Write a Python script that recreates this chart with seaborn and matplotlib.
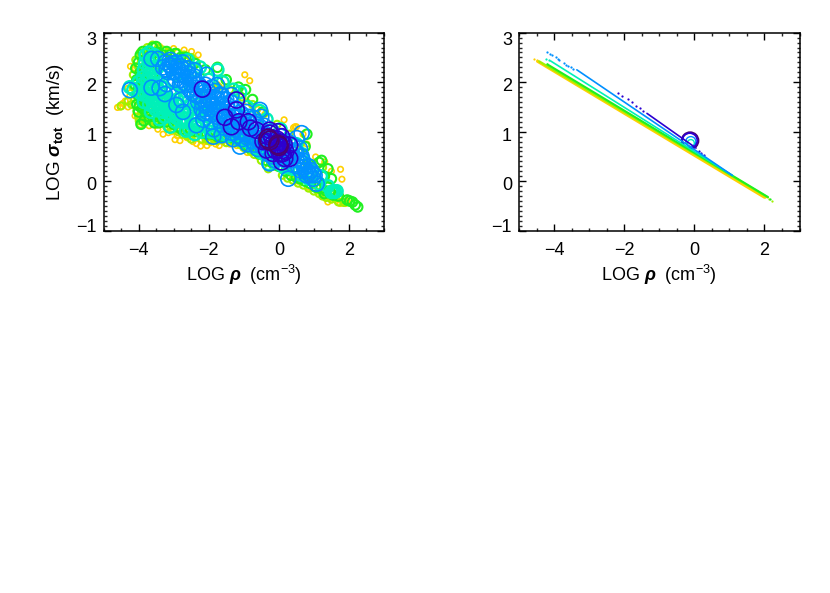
import numpy as np
import pandas as pd
import matplotlib
matplotlib.use("Agg")
import matplotlib.pyplot as plt
import seaborn as sns
from matplotlib.ticker import MultipleLocator
from matplotlib.transforms import ScaledTranslation

sns.set_theme(style="white")
plt.rcParams.update({
    "font.family": ["Liberation Sans", "DejaVu Sans"],
    "mathtext.fontset": "custom",
    "mathtext.rm": "Liberation Sans",
    "mathtext.it": "Liberation Sans:italic",
    "mathtext.bf": "Liberation Sans:bold",
    "mathtext.bfit": "Liberation Sans:italic:bold",
    "mathtext.default": "regular",
    "axes.unicode_minus": True,
})

gold_pts = [(-4.6,1.49),(-4.52,1.5),(-4.45,1.57),(-4.38,1.62),(-4.3,1.5),(-4.23,2.32),(-4.1,2.28),(-4.25,1.72),
 (-4.3,1.88),(-4.1,1.32),(-3.9,1.25),(-3.6,1.2),(-3.18,1.07),(-3.3,0.95),(-3.05,1.0),(-2.96,0.84),(-2.82,0.82),(-2.7,0.98),
 (-2.55,0.9),(-2.35,0.76),(-2.23,0.71),(-2.1,0.8),(-1.95,0.78),(-1.8,0.75),(-1.6,0.8),(-1.4,0.75),(-1.2,0.72),
 (-0.97,2.15),(-0.83,2.03),(-1.7,1.91),(-1.75,1.95),(-1.5,1.9),(-1.1,1.75),(-0.9,1.6),(-0.6,1.45),(-0.4,1.35),
 (0.15,1.24),(0.46,1.1),(0.5,1.1),(0.42,1.08),(0.69,0.95),(0.8,0.75),(1.05,0.49),(1.31,0.39),(1.5,0.2),(1.76,0.24),(1.8,0.04),
 (1.64,-0.39),(1.4,-0.42),(1.5,-0.38),(1.1,-0.2),(0.85,-0.12),(0.55,0.0),(0.2,0.2),(-0.2,0.35),(-0.6,0.5),(-0.9,0.58),
 (-2.49,2.62),(-2.3,2.55),(-2.7,2.65),(-3.0,2.68),(-3.4,2.72),(1.9,-0.45),(1.75,-0.45),(1.25,-0.3),(1.95,-0.4),
 (-2.62,0.88),(-2.45,0.8),(-2.05,0.72),(-1.7,0.72),(-1.5,0.76),(-3.45,1.05),(-3.7,1.12),(-2.9,0.92),(-3.15,0.98)]

lime_pts = [(-4.5,1.52),(-4.3,1.62),(-4.2,1.55),(-4.05,1.42),(-4.0,1.3),(-3.95,1.15),(-3.85,1.35),(-3.7,1.22),(-3.5,1.15),(-3.2,1.1),
 (-3.0,1.05),(-2.75,0.95),(-2.5,0.85),(-2.2,0.85),(-2.0,0.82),(-1.75,0.82),(-1.5,0.78),(-1.2,0.78),(-1.0,0.68),(-0.8,0.6),
 (-4.15,2.15),(-4.05,2.0),(-4.15,1.9),(-4.1,1.75),(-4.0,2.3),(-3.85,2.55),(-3.95,2.6),(-3.75,2.7),(-3.6,2.75),(-3.55,2.72),(-3.3,2.65),
 (-2.9,2.6),(-2.5,2.5),(-2.35,2.4),(-1.75,1.9),(-1.4,1.85),(-1.05,1.7),(-0.75,1.55),(-0.5,1.4),(-0.3,0.25),(0.1,0.12),(0.4,0.02),(0.7,-0.08),
 (1.0,-0.2),(1.15,-0.25),(1.35,-0.33),(1.5,-0.36),(1.7,-0.42),(1.85,-0.43),(1.55,-0.25),(1.35,-0.18),(1.7,-0.32),(0.95,0.35),(1.25,0.28),
 (-3.9,1.9),(-3.75,1.6),(-3.8,2.1),(-3.65,1.45),(-3.45,1.4),(-3.2,1.25),(-0.05,1.15),(0.3,0.95),(0.6,0.75),
 (-4.02,1.62),(-3.98,1.85),(-4.08,2.45),(-3.92,2.42),(-3.88,2.2),(-3.82,1.48),(-3.92,1.42),(-3.98,1.22),(-3.78,1.28),(-3.6,1.32),(-3.35,1.18),
 (-3.1,1.12),(-2.88,1.0),(-2.62,0.92),(-2.35,0.9),(-2.08,0.86),(-1.85,0.85),(-1.62,0.84),(-1.35,0.82),(-1.1,0.74),(-0.9,0.66),(-0.7,0.54),
 (-0.5,0.42),(-0.15,0.3),(0.25,0.06),(0.55,-0.04),(0.85,-0.14),(1.25,-0.3),(1.45,-0.3),(1.6,-0.34),(-3.45,2.68),(-3.15,2.6),(-2.7,2.55)]

green_pts = [(-4.05,1.55),(-4.0,1.4),(-3.93,1.15),(-3.9,1.48),(-3.8,1.8),(-3.95,1.7),(-4.05,2.05),(-3.95,2.2),(-4.0,2.4),(-3.95,2.55),
 (-3.85,2.4),(-3.75,2.62),(-3.6,2.7),(-3.45,2.6),(-3.7,1.3),(-3.55,1.18),(-3.42,1.18),(-3.3,1.25),(-3.1,1.3),(-2.9,1.1),
 (-2.65,1.0),(-2.35,1.0),(-2.05,0.95),(-1.75,0.9),(-1.5,1.0),(-1.2,0.9),(-0.95,0.72),(-0.65,0.62),(-0.35,0.42),(0.0,0.3),(0.35,0.12),
 (-3.1,2.55),(-2.8,2.5),(-2.4,2.38),(-2.1,2.25),(-1.75,2.3),(-1.5,2.05),(-1.15,1.9),(-0.95,1.85),(-0.75,1.65),(-0.45,1.4),(0.75,0.7),(0.8,0.95),
 (0.6,0.05),(0.9,-0.05),(1.2,-0.15),(0.85,0.35),(1.15,0.38),(1.22,0.42),(1.5,0.05),(1.42,-0.12),(1.6,-0.22),(1.45,-0.2),(1.3,-0.25),
 (1.95,-0.38),(2.1,-0.42),(2.18,-0.48),(2.25,-0.52),(2.02,-0.4),(1.4,0.25),(1.3,0.1),(-3.7,1.95),(-3.55,2.2),(-3.6,1.6),(-3.4,1.75),
 (-4.0,1.9),(-3.9,2.05),(-4.02,1.75),(-3.9,1.62),(-3.8,1.4),(-3.65,2.45),(-3.5,2.72),(-3.3,2.55),(-3.2,2.62),(-2.95,2.58),(-2.65,2.5),(-3.2,1.2),
 (-3.0,1.15),(-2.78,1.05),(-2.5,1.02),(-2.2,0.98),(-1.9,0.95),(-1.62,0.9),(-1.35,0.88),(-1.05,0.8),(-0.85,0.68),(-0.55,0.55),(-0.2,0.38),(0.2,0.2),
 (0.5,0.08),(0.75,0.0),(1.05,-0.12),(1.35,-0.2),(1.55,-0.28),(1.7,-0.3),
 (-4.08,2.28),(-4.1,1.95),(-3.98,1.52),(-3.85,1.22),(-3.72,1.42),(-3.95,2.1),(-3.88,2.62),(-3.52,1.3),(-3.35,1.35)]

teal_pts = [(-4.25,1.9),(-4.15,1.85),(-4.0,2.0),(-3.95,1.78),(-3.85,1.6),(-3.7,1.55),(-3.75,2.05),(-3.85,2.25),(-3.8,2.55),(-3.7,2.6),
 (-3.55,2.55),(-3.6,2.3),(-3.5,2.05),(-3.55,1.8),(-3.45,1.55),(-3.3,1.4),(-3.4,1.25),(-3.3,1.7),(-3.35,2.0),(-3.15,1.55),(-3.05,1.35),
 (-2.95,1.2),(-3.1,1.8),(-2.9,1.65),(-2.75,1.4),(-2.7,1.2),(-2.65,1.02),(-2.5,1.15),(-2.6,1.6),(-2.45,1.35),(-2.3,1.15),(-2.2,1.0),
 (-2.1,1.25),(-1.95,1.0),(-1.85,1.15),(-1.7,1.05),(-1.55,0.95),(-1.35,1.0),(-1.15,0.85),(-0.95,0.82),(-0.75,0.7),(-0.5,0.58),(-0.3,0.52),
 (-0.3,0.35),(-0.05,0.42),(0.15,0.28),(0.4,0.25),(0.65,0.12),(0.85,0.05),(0.95,0.2),(1.2,0.1),(1.15,-0.05),(1.4,-0.1),(1.55,-0.2),(1.6,-0.22),
 (1.5,-0.22),(1.65,-0.2),(-2.9,2.4),(-2.6,2.45),(-2.4,2.25),(-2.25,2.3),(-1.75,2.25),(-2.0,2.05),(-1.6,2.0),(-1.3,1.85),(-1.1,1.8),(-0.9,1.5),
 (-0.55,1.42),(-0.35,1.25),(0.05,1.05),(0.5,0.75),(0.65,0.55),(-3.2,2.2),(-2.8,1.95),(-3.65,1.4),(-2.25,1.55),(-1.9,1.45),(-3.1,1.1),(-2.4,0.95),
 (-3.9,1.95),(-3.88,1.75),(-3.78,1.88),(-3.72,1.72),(-3.62,1.95),(-3.62,1.62),(-3.52,1.7),(-3.48,1.92),(-3.42,1.65),(-3.38,1.82),(-3.28,1.58),
 (-3.25,1.88),(-3.2,1.45),(-3.18,1.68),(-3.1,1.48),(-3.05,1.62),(-3.0,1.5),(-2.95,1.78),(-2.88,1.35),(-2.82,1.52),(-2.72,1.28),(-2.68,1.72),
 (-2.58,1.4),(-2.52,1.55),(-2.5,1.25),(-2.42,1.48),(-2.38,1.12),(-2.32,1.32),(-2.28,1.68),(-2.18,1.12),(-2.15,1.48),(-2.02,1.1),(-1.98,1.3),
 (-1.8,0.98),(-1.62,1.08),(-1.45,0.92),(-1.25,0.95),(-1.05,0.9),(-0.85,0.78),(-0.65,0.68),(-0.42,0.55),(-0.18,0.45),(0.08,0.32),(0.28,0.28),
 (-3.7,2.3),(-3.6,2.45),(-3.45,2.3),(-3.5,2.45),(-3.35,2.15),(-3.72,2.42),(-3.82,2.38),(-3.7,2.15),(-3.88,2.1),(-3.58,2.12),(-3.4,1.42),(-3.52,1.45),(-3.25,1.3),
 (-3.8,1.75),(-3.68,1.82),(-3.58,1.52),(-3.5,1.6),(-3.35,1.5),(-3.22,1.62),(-3.12,1.38),(-2.98,1.4),(-2.92,1.28),(-2.78,1.22),(-2.62,1.25),(-2.55,1.05)]

blue_pts = [(-4.25,1.84),(-3.63,2.47),(-3.44,2.47),(-3.63,1.89),(-3.23,2.4),(-3.07,2.33),(-2.93,2.4),(-2.74,2.4),(-2.6,2.28),(-2.4,2.24),
 (-3.2,1.96),(-3.4,1.88),(-3.25,1.76),(-2.82,1.95),(-2.63,1.95),(-2.92,1.54),(-2.73,1.4),(-2.78,1.64),(-2.06,2.15),(-2.15,1.24),(-1.92,1.2),
 (-2.35,1.13),(-2.15,1.37),(-1.76,1.94),(-1.63,1.74),(-1.35,1.74),(-1.21,1.47),(-0.54,1.44),(-0.5,1.3),(0.65,0.97),(0.51,0.87),(0.27,0.05),
 (1.08,-0.05),(0.98,0.15),(0.79,0.12),(-0.54,1.1),(-1.11,0.7),(-0.26,0.36),(-1.63,0.93),(-1.87,0.9),
 (-3.3,2.3),(-3.15,2.2),(-3.0,2.2),(-3.1,2.45),(-2.85,2.25),(-2.95,2.05),(-2.75,2.15),(-2.65,2.1),(-2.55,2.1),(-2.45,2.05),(-2.35,1.95),
 (-2.55,1.85),(-2.4,1.75),(-2.25,1.85),(-2.1,1.95),(-2.0,1.8),(-1.9,1.9),(-2.3,1.6),(-2.15,1.65),(-2.0,1.55),(-1.85,1.7),(-1.75,1.55),
 (-2.2,1.45),(-2.05,1.4),(-1.9,1.35),(-1.75,1.3),(-1.6,1.55),(-1.5,1.65),(-1.45,1.45),(-1.6,1.3),(-1.65,1.15),(-1.5,1.2),(-1.4,1.05),(-1.3,1.3),
 (-1.25,1.15),(-1.15,1.0),(-1.05,1.35),(-1.0,1.15),(-0.95,0.95),(-0.85,1.3),(-0.8,1.1),(-0.75,0.9),(-0.65,1.2),(-0.6,0.95),(-0.55,0.78),
 (-0.45,1.0),(-0.4,0.82),(-0.35,0.65),(-0.2,1.0),(-0.15,0.8),(-0.1,0.6),(0.05,0.9),(0.1,0.7),(0.15,0.52),(0.25,0.8),(0.3,0.6),(0.35,0.42),
 (0.45,0.62),(0.5,0.45),(0.55,0.3),(0.65,0.5),(0.7,0.35),(0.75,0.2),(0.85,0.3),(0.9,0.12),(-1.85,1.05),(-1.3,0.85),(-0.9,0.75),(-0.6,0.65),(-0.1,0.42),
 (-3.2,2.25),(-3.12,2.35),(-3.05,2.28),(-3.0,2.38),(-2.9,2.3),(-2.88,2.15),(-2.8,2.32),(-2.78,2.05),(-2.7,2.25),(-2.68,1.98),(-2.58,2.18),(-2.5,1.95),
 (-2.48,1.78),(-2.42,2.12),(-2.38,1.88),(-2.32,1.72),(-2.28,1.95),(-2.22,1.72),(-2.18,1.58),(-2.12,1.8),(-2.08,1.52),(-2.02,1.7),(-1.95,1.62),(-1.95,1.45),
 (-1.88,1.55),(-1.82,1.82),(-1.82,1.4),(-1.78,1.68),(-1.72,1.45),(-1.68,1.75),(-1.68,1.22),(-1.62,1.42),(-1.58,1.65),(-1.55,1.08),(-1.52,1.35),(-1.48,1.55),
 (-1.45,1.15),(-1.42,1.32),(-1.38,1.6),(-1.35,0.98),(-1.35,1.22),(-1.3,1.45),(-1.25,1.05),(-1.2,1.3),(-1.18,0.92),(-1.15,1.15),(-1.1,1.38),(-1.08,1.0),
 (-1.05,0.85),(-1.02,1.25),(-0.95,1.08),(-0.92,1.4),(-0.9,0.88),(-0.85,1.18),(-0.82,1.0),(-0.78,0.82),(-0.72,1.28),(-0.72,1.05),(-0.7,0.88),(-0.68,0.74),
 (-0.62,1.1),(-0.6,0.82),(-0.52,1.0),(-0.5,0.85),(-0.48,0.7),(-0.42,1.12),(-0.38,0.92),(-0.32,0.75),(-0.3,0.55),(-0.25,0.88),(-0.22,0.68),(-0.18,0.5),
 (-0.05,0.72),(-0.02,0.5),(0.02,0.62),(0.08,0.45),(0.18,0.65),(0.22,0.42),(0.28,0.5),(0.38,0.55),(0.42,0.33),(0.5,0.58),(0.58,0.42),(0.62,0.22),(0.68,0.42),
 (0.72,0.28),(0.8,0.22),(0.85,0.15),(0.92,0.22),(0.98,0.05),(1.02,0.12),(0.6,0.66),(0.4,0.72)]

indigo_pts = [(-2.18,1.86),(-1.21,1.64),(-1.21,1.44),(-1.54,1.29),(-1.35,1.10),(-1.14,1.2),(-0.87,1.2),(-0.81,1.07),(-0.64,1.03),
 (-0.26,0.97),(-0.26,1.03),(-0.02,1.0),(0.08,0.9),(-0.35,0.8),(-0.45,0.8),(-0.35,0.63),(-0.16,0.56),(0.17,0.46),(0.31,0.46),(0.08,0.39),
 (0.12,0.56),(0.31,0.73),(-0.16,0.76),(-0.05,0.85),(0.02,0.7),(-0.2,0.88),(0.15,0.75),(0.2,0.6),(-0.1,0.62),(0.05,0.55),
 (-0.05,0.72),(0.0,0.8),(0.05,0.7),(0.08,0.78),(-0.02,0.64),(0.1,0.62),(-0.3,0.9)]

purple_pts = [(-0.3,0.86),(-0.02,0.74),(-0.26,0.82),(0.0,0.71)]

right_gold_line = [(-4.48,2.42),(2.0,-0.33)]
right_lime_line = [(-4.42,2.42),(2.1,-0.33)]
right_green_line = [(-4.19,2.36),(2.1,-0.32)]
right_teal_line = [(-4.1,2.43),(1.1,0.11)]
right_blue_line = [(-3.35,2.25),(1.08,0.12)]
right_indigo_line = [(-1.35,1.37),(0.05,0.67)]
right_gold_dots = [(-4.57,2.47),(-4.5,2.44),(2.03,-0.32)]
right_lime_dots = [(-4.45,2.43),(2.22,-0.39),(2.12,-0.35)]
right_green_dots = [(-4.19,2.36),(2.15,-0.36)]
right_teal_dots = [(-4.23,2.47),(-4.15,2.44)]
right_blue_dots = [(-4.19,2.6),(-4.12,2.57),(-4.05,2.54),(-3.95,2.5),(-3.9,2.47),(-3.85,2.45),(-3.72,2.38),(-3.65,2.35),(-3.6,2.33),(-3.52,2.3),(-3.45,2.27)]
right_indigo_dots = [(-2.19,1.79),(-2.05,1.72),(-1.9,1.66),(-1.78,1.6),(-1.65,1.52),(-1.55,1.48),(-1.45,1.42),(0.12,0.6),(0.2,0.56),(0.27,0.53)]
right_blue_ring = [(-0.1,0.8)]
right_teal_ring = [(-0.1,0.77)]
right_indigo_ring = [(-0.13,0.82)]
right_purple_ring = [(-0.12,0.82)]

COL = {"gold":"#ffd000","lime":"#a0f000","green":"#20f020","teal":"#00f0b8",
       "blue":"#0090ff","indigo":"#2c00d0","purple":"#4c0070"}

fig = plt.figure(figsize=(8.30, 5.93), dpi=100, facecolor="white")
W, H = 830.0, 593.0
ax1 = fig.add_axes([103.5/W, 1-230.7/H, 280.5/W, 198/H])
ax2 = fig.add_axes([519/W, 1-230.7/H, 280.5/W, 198/H])

def rings(ax, pts, color, d_px, lw=1.2):
    df = pd.DataFrame(pts, columns=["x", "y"])
    s = (d_px*0.72)**2
    sns.scatterplot(data=df, x="x", y="y", s=s, color=color, ax=ax, legend=False)
    c = ax.collections[-1]
    c.set_facecolor("none"); c.set_edgecolor(color); c.set_linewidth(lw)

def dots(ax, pts, color):
    df = pd.DataFrame(pts, columns=["x", "y"])
    sns.scatterplot(data=df, x="x", y="y", s=2.6, color=color, linewidth=0, ax=ax, legend=False)

def seg(ax, pts, color, lw):
    df = pd.DataFrame(pts, columns=["x", "y"])
    sns.lineplot(data=df, x="x", y="y", color=color, lw=lw, ax=ax, sort=False, estimator=None, legend=False)

rings(ax1, gold_pts, COL["gold"], 5.5)
rings(ax1, lime_pts, COL["lime"], 7, 1.5)
rings(ax1, green_pts, COL["green"], 9.5, 1.5)
rings(ax1, teal_pts, COL["teal"], 12, 1.7)
rings(ax1, blue_pts, COL["blue"], 15)
rings(ax1, indigo_pts, COL["indigo"], 16)
rings(ax1, purple_pts, COL["purple"], 18.5)

seg(ax2, right_gold_line, COL["gold"], 1.8)
seg(ax2, right_lime_line, COL["lime"], 1.6)
seg(ax2, right_green_line, COL["green"], 1.5)
seg(ax2, right_teal_line, COL["teal"], 1.2)
seg(ax2, right_blue_line, COL["blue"], 1.2)
seg(ax2, right_indigo_line, COL["indigo"], 1.2)
dots(ax2, right_gold_dots, COL["gold"])
dots(ax2, right_lime_dots, COL["lime"])
dots(ax2, right_green_dots, COL["green"])
dots(ax2, right_teal_dots, COL["teal"])
dots(ax2, right_blue_dots, COL["blue"])
dots(ax2, right_indigo_dots, COL["indigo"])
rings(ax2, right_teal_ring, COL["teal"], 7, 1.0)
rings(ax2, right_blue_ring, COL["blue"], 10, 1.0)
rings(ax2, right_purple_ring, COL["purple"], 16.5, 1.5)
rings(ax2, right_indigo_ring, COL["indigo"], 15, 1.3)

for ax in (ax1, ax2):
    ax.set_xlim(-5, 3); ax.set_ylim(-1, 3)
    ax.xaxis.set_major_locator(MultipleLocator(2))
    ax.xaxis.set_minor_locator(MultipleLocator(0.5))
    ax.yaxis.set_major_locator(MultipleLocator(1))
    ax.yaxis.set_minor_locator(MultipleLocator(0.1))
    ax.tick_params(which="major", direction="in", length=5, width=1.0, top=True, right=True,
                   bottom=True, left=True, labelsize=13, colors="black")
    ax.tick_params(axis="x", which="major", pad=8)
    ax.tick_params(axis="y", which="major", pad=5)
    ax.tick_params(which="minor", direction="in", length=2.5, width=1.0, top=True, right=True,
                   bottom=True, left=True)
    for sp in ax.spines.values():
        sp.set_visible(True); sp.set_linewidth(1.1); sp.set_color("black")
    ax.set_xlabel(r"LOG $\boldsymbol{\rho}$  (cm$^{-3}$)", fontsize=13, color="black", labelpad=3)
    ax.set_ylabel("")
    ax.grid(False)
    # IDL-style label offsets: end labels are pulled inside the axis range
    offsets = {-1: 5.0, 0: -2.3, 1: -3.0, 2: -2.7, 3: -5.5}
    for t, lab in zip(ax.get_yticks(), ax.get_yticklabels()):
        if int(t) in offsets:
            lab.set_transform(lab.get_transform() + ScaledTranslation(0, offsets[int(t)]/100, fig.dpi_scale_trans))
ax1.set_ylabel(r"LOG $\boldsymbol{\sigma}_{\mathbf{tot}}$  (km/s)", fontsize=13.5, color="black", labelpad=7)

fig.savefig("out.png", dpi=100, facecolor="white")
